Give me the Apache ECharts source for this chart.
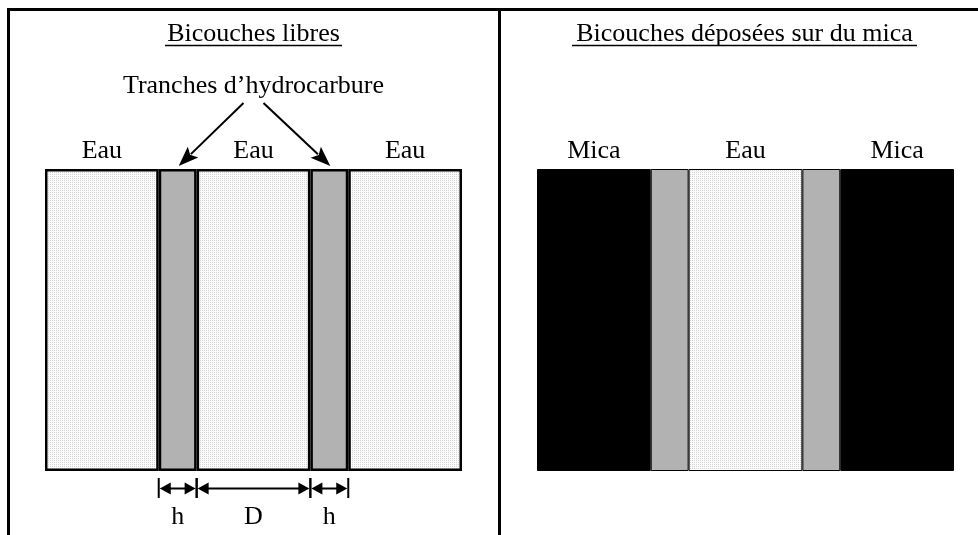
<!DOCTYPE html>
<html>
<head>
<meta charset="utf-8">
<title>Bicouches</title>
<script src="https://cdn.jsdelivr.net/npm/echarts@6/dist/echarts.min.js"></script>
<style>
  html, body { margin: 0; padding: 0; background: #fff; }
  #chart { width: 978px; height: 535px; }
</style>
</head>
<body>
<div id="chart"></div>
<script>
// epaisseurs des couches, en unites de h
const leftLayers = ['Eau', 'Tranche', 'Eau', 'Tranche', 'Eau'];
const leftWidths = [3, 1, 3, 1, 3];
const rightLayers = ['Mica', 'Tranche', 'Eau', 'Tranche', 'Mica'];
const rightWidths = [3, 1, 3, 1, 3];
// cotes sous le panneau de gauche
const dimStart = [3, 4, 7];
const dimEnd = [4, 7, 8];
const dimLabels = ['h', 'D', 'h'];
const titles = ['Bicouches libres', 'Bicouches déposées sur du mica'];
const annotation = 'Tranches d’hydrocarbure';

const serif = '"Liberation Serif", "Times New Roman", serif';

// petit motif pointille pour l'eau
const dots = document.createElement('canvas');
dots.width = 2; dots.height = 2;
const dctx = dots.getContext('2d');
dctx.fillStyle = '#fcfcfc'; dctx.fillRect(0, 0, 2, 2);
dctx.fillStyle = '#d4d4d4'; dctx.fillRect(0, 0, 1, 1);

const fills = {
  Eau: { image: dots, repeat: 'repeat' },
  Tranche: '#b2b2b2',
  Mica: '#000'
};

const sum = arr => arr.reduce((a, b) => a + b, 0);

function layerSeries(layers, widths, idx, border) {
  return layers.map((name, i) => ({
    type: 'bar',
    name: name,
    stack: 'panel' + idx,
    xAxisIndex: idx,
    yAxisIndex: idx,
    barWidth: '100%',
    silent: true,
    data: [widths[i]],
    itemStyle: { color: fills[name], borderColor: '#000', borderWidth: border },
    label: {
      show: name !== 'Tranche',
      position: 'top',
      distance: 5,
      formatter: name,
      color: '#000',
      fontFamily: serif,
      fontSize: 26
    }
  }))
}

// centres des tranches d'hydrocarbure (gauche)
const slabCenters = [];
leftLayers.reduce((acc, name, i) => {
  if (name === 'Tranche') slabCenters.push(acc + leftWidths[i] / 2);
  return acc + leftWidths[i];
}, 0);

const myChart = echarts.init(document.getElementById('chart'));

const option = {
  animation: false,
  grid: [
    { left: 45, top: 169, width: 417, height: 302 },
    { left: 537, top: 169, width: 417, height: 302 }
  ],
  xAxis: [
    { gridIndex: 0, type: 'value', min: 0, max: sum(leftWidths), show: false },
    { gridIndex: 1, type: 'value', min: 0, max: sum(rightWidths), show: false }
  ],
  yAxis: [
    { gridIndex: 0, type: 'category', data: ['couche'], show: false },
    { gridIndex: 1, type: 'category', data: ['couche'], show: false }
  ],
  graphic: [
    // cadre du tableau
    { type: 'line', shape: { x1: 7, y1: 9.5, x2: 978, y2: 9.5 }, style: { stroke: '#000', lineWidth: 3 } },
    { type: 'line', shape: { x1: 8.5, y1: 8, x2: 8.5, y2: 535 }, style: { stroke: '#000', lineWidth: 3 } },
    { type: 'line', shape: { x1: 499.5, y1: 8, x2: 499.5, y2: 535 }, style: { stroke: '#000', lineWidth: 3 } },
    // titres soulignes
    { type: 'text', style: { text: titles[0], x: 253.5, y: 34, textAlign: 'center', textVerticalAlign: 'middle', font: '26px ' + serif, fill: '#000' } },
    { type: 'line', shape: { x1: 165, y1: 45.5, x2: 342, y2: 45.5 }, style: { stroke: '#000', lineWidth: 1.5 } },
    { type: 'text', style: { text: titles[1], x: 744.5, y: 34, textAlign: 'center', textVerticalAlign: 'middle', font: '26px ' + serif, fill: '#000' } },
    { type: 'line', shape: { x1: 572, y1: 45.5, x2: 917, y2: 45.5 }, style: { stroke: '#000', lineWidth: 1.5 } }
  ],
  series: [
    ...layerSeries(leftLayers, leftWidths, 0, 2.5),
    ...layerSeries(rightLayers, rightWidths, 1, 1),
    {
      // cotes h / D / h
      type: 'custom',
      xAxisIndex: 0,
      yAxisIndex: 0,
      silent: true,
      clip: false,
      encode: { x: [0, 1], y: 2 },
      data: dimStart.map((s, i) => [s, dimEnd[i], 0]),
      renderItem(params, api) {
        const a = api.coord([api.value(0), 0]);
        const b = api.coord([api.value(1), 0]);
        const bottom = a[1] + api.size([0, 1])[1] / 2;
        const y = bottom + 17.5;
        const x0 = a[0], x1 = b[0];
        const stroke = { stroke: '#000', lineWidth: 2 };
        return {
          type: 'group',
          children: [
            { type: 'line', shape: { x1: x0, y1: bottom + 7, x2: x0, y2: bottom + 27 }, style: stroke },
            { type: 'line', shape: { x1: x1, y1: bottom + 7, x2: x1, y2: bottom + 27 }, style: stroke },
            { type: 'line', shape: { x1: x0 + 6, y1: y, x2: x1 - 6, y2: y }, style: { stroke: '#000', lineWidth: 2 } },
            { type: 'polygon', shape: { points: [[x0 + 1, y], [x0 + 12, y - 6], [x0 + 12, y + 6]] }, style: { fill: '#000' } },
            { type: 'polygon', shape: { points: [[x1 - 1, y], [x1 - 12, y - 6], [x1 - 12, y + 6]] }, style: { fill: '#000' } },
            {
              type: 'text',
              style: {
                text: dimLabels[params.dataIndex], x: (x0 + x1) / 2, y: bottom + 46,
                textAlign: 'center', textVerticalAlign: 'middle', font: '26px ' + serif, fill: '#000'
              }
            }
          ]
        };
      }
    },
    {
      // fleches "Tranches d'hydrocarbure"
      type: 'custom',
      xAxisIndex: 0,
      yAxisIndex: 0,
      silent: true,
      clip: false,
      encode: { x: 0, y: 1 },
      data: slabCenters.map(c => [c, 0]),
      renderItem(params, api) {
        const p = api.coord([api.value(0), 0]);
        const mid = api.coord([sum(leftWidths) / 2, 0])[0];
        const top = p[1] - api.size([0, 1])[1] / 2;
        const sign = p[0] < mid ? -1 : 1;
        const start = [mid + sign * 10, top - 66];
        const tip = [p[0] + 1, top - 3];
        const dx = tip[0] - start[0], dy = tip[1] - start[1];
        const len = Math.sqrt(dx * dx + dy * dy);
        const ux = dx / len, uy = dy / len;
        const L = 20, W = 7.5;
        const base = [tip[0] - ux * L, tip[1] - uy * L];
        const children = [
          { type: 'line', shape: { x1: start[0], y1: start[1], x2: base[0] + ux * 3, y2: base[1] + uy * 3 }, style: { stroke: '#000', lineWidth: 2 } },
          {
            type: 'polygon',
            shape: { points: [tip, [base[0] - uy * W, base[1] + ux * W], [base[0] + ux * 4, base[1] + uy * 4], [base[0] + uy * W, base[1] - ux * W]] },
            style: { fill: '#000' }
          }
        ];
        if (params.dataIndex === 0) {
          children.push({
            type: 'text',
            style: {
              text: annotation, x: mid, y: top - 83,
              textAlign: 'center', textVerticalAlign: 'middle', font: '26px ' + serif, fill: '#000'
            }
          });
        }
        return { type: 'group', children };
      }
    }
  ]
};

myChart.setOption(option);
</script>
</body>
</html>
